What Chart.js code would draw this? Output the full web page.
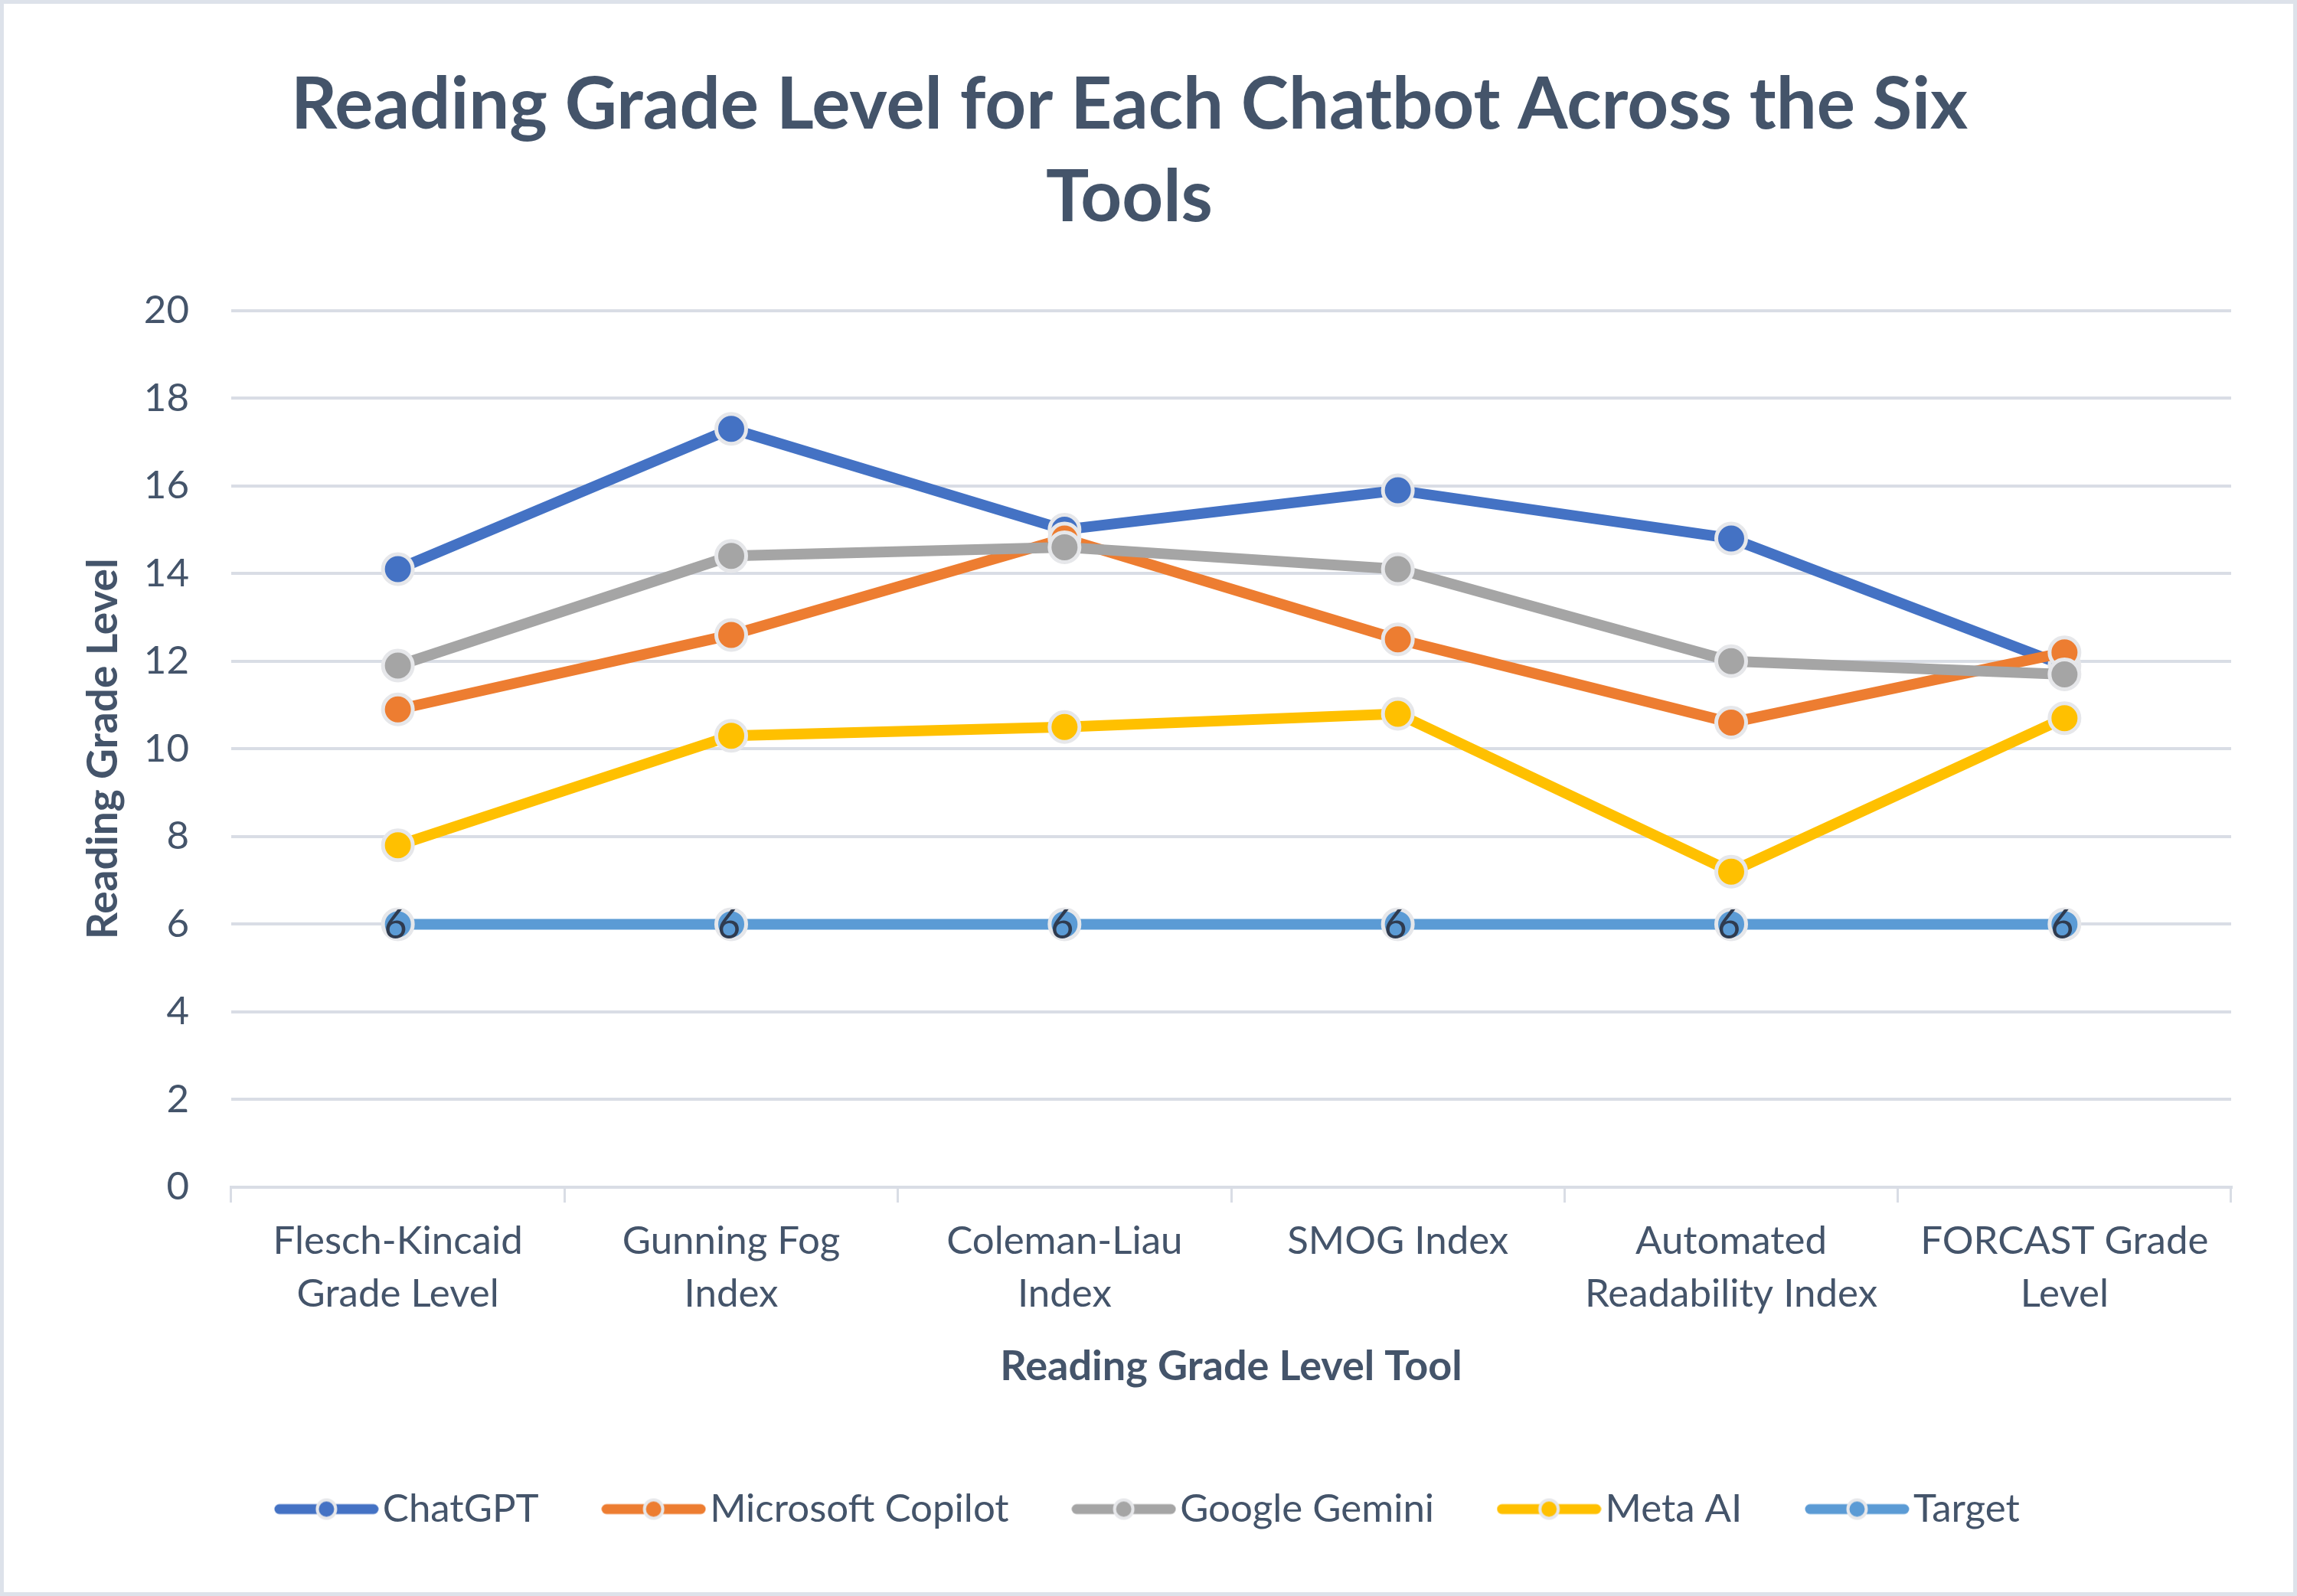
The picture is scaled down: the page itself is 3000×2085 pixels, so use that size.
<!DOCTYPE html>
<html>
<head>
<meta charset="utf-8">
<script src="https://cdn.jsdelivr.net/npm/chart.js@4/dist/chart.umd.min.js"></script>
<style>
  html, body { margin: 0; padding: 0; background: #ffffff; }
  #wrap { width: 3000px; height: 2085px; box-sizing: border-box; border: 5px solid #dde2ea; background: #ffffff; }
  canvas { display: block; }
</style>
</head>
<body>
<div id="wrap"><canvas id="c" width="2990" height="2075"></canvas></div>
<script>
const titleLines = ["Reading Grade Level for Each Chatbot Across the Six", "Tools"];
const categories = [["Flesch-Kincaid", "Grade Level"], ["Gunning Fog", "Index"], ["Coleman-Liau", "Index"], ["SMOG Index"], ["Automated", "Readability Index"], ["FORCAST Grade", "Level"]];
const seriesNames = ["ChatGPT", "Microsoft Copilot", "Google Gemini", "Meta AI", "Target"];
const chatgpt = [14.1, 17.3, 15.0, 15.9, 14.8, 11.9];
const copilot = [10.9, 12.6, 14.8, 12.5, 10.6, 12.2];
const gemini = [11.9, 14.4, 14.6, 14.1, 12.0, 11.7];
const metaAI = [7.8, 10.3, 10.5, 10.8, 7.2, 10.7];
const target = [6, 6, 6, 6, 6, 6];
const yTicks = [0, 2, 4, 6, 8, 10, 12, 14, 16, 18, 20];
const yAxisTitle = "Reading Grade Level";
const xAxisTitle = "Reading Grade Level Tool";

const seriesValues = [chatgpt, copilot, gemini, metaAI, target];
const colors = ["#4472c4", "#ed7d31", "#a5a5a5", "#ffc000", "#5b9bd5"];
const textColor = "#44546a";
const FONT = "Lato, 'Open Sans', sans-serif";

function legendSymbol(color) {
  const c = document.createElement('canvas');
  c.width = 137; c.height = 40;
  const g = c.getContext('2d');
  g.strokeStyle = color; g.lineWidth = 13; g.lineCap = 'round';
  g.beginPath(); g.moveTo(7, 20); g.lineTo(130, 20); g.stroke();
  g.beginPath(); g.arc(68.5, 20, 12, 0, Math.PI * 2);
  g.fillStyle = color; g.fill();
  g.lineWidth = 4; g.strokeStyle = '#e6e7ea'; g.stroke();
  return c;
}

const datasets = seriesNames.map((name, i) => ({
  label: name,
  data: seriesValues[i],
  borderColor: colors[i],
  backgroundColor: colors[i],
  borderWidth: 14,
  pointRadius: 19.5,
  pointHoverRadius: 19.5,
  pointBackgroundColor: colors[i],
  pointBorderColor: '#e6e7ea',
  pointBorderWidth: 5,
  tension: 0,
  order: seriesNames.length - 1 - i,
  showValues: name === "Target",
  legendImage: legendSymbol(colors[i])
}));

const valueLabels = {
  id: 'valueLabels',
  afterDatasetsDraw(chart) {
    const ctx = chart.ctx;
    chart.data.datasets.forEach((ds, i) => {
      if (!ds.showValues) return;
      const meta = chart.getDatasetMeta(i);
      ctx.save();
      ctx.font = "52px " + FONT;
      ctx.fillStyle = '#2f3b4f';
      ctx.textAlign = 'center';
      ctx.textBaseline = 'middle';
      meta.data.forEach((pt, j) => {
        ctx.fillText(String(ds.data[j]), pt.x - 3, pt.y + 2);
      });
      ctx.restore();
    });
  }
};

const titleShift = {
  id: 'titleShift',
  afterLayout(chart) {
    if (chart.titleBlock) { chart.titleBlock.left -= 66; }
  }
};

new Chart(document.getElementById('c'), {
  type: 'line',
  data: { labels: categories, datasets: datasets },
  plugins: [valueLabels, titleShift],
  options: {
    responsive: false,
    animation: false,
    events: [],
    layout: { padding: { left: 97, right: 81, top: 0, bottom: 73 } },
    plugins: {
      tooltip: { enabled: false },
      title: {
        display: true,
        text: titleLines,
        color: textColor,
        font: { family: FONT, size: 94, weight: 'bold', lineHeight: 1.28 },
        padding: { top: 73, bottom: 87 }
      },
      legend: {
        position: 'bottom',
        labels: {
          usePointStyle: true,
          pointStyleWidth: 96,
          color: textColor,
          font: { family: FONT, size: 51 },
          padding: 102,
          generateLabels(chart) {
            return chart.data.datasets.map((ds, i) => ({
              text: ds.label,
              fillStyle: ds.backgroundColor,
              strokeStyle: ds.borderColor,
              lineWidth: 0,
              pointStyle: ds.legendImage,
              fontColor: textColor,
              hidden: false,
              datasetIndex: i
            }));
          }
        }
      }
    },
    scales: {
      x: {
        offset: true,
        afterFit(scale) { scale.height = 293; },
        grid: { display: true, drawOnChartArea: false, drawTicks: true, tickLength: 20, offset: true, color: '#d9dde5', lineWidth: 3 },
        border: { display: true, color: '#d9dde5', width: 4 },
        ticks: { color: textColor, font: { family: FONT, size: 51, lineHeight: 1.35 }, padding: 16, maxRotation: 0, autoSkip: false },
        title: { display: true, text: xAxisTitle, color: textColor, font: { family: FONT, size: 54, weight: 'bold' }, padding: { top: 0, bottom: 26 } }
      },
      y: {
        min: 0, max: 20,
        afterFit(scale) { scale.width = 200; },
        afterBuildTicks(scale) { scale.ticks = yTicks.map(v => ({ value: v })); },
        grid: { color: '#d9dde5', lineWidth: 4, drawTicks: false },
        border: { display: false },
        ticks: { color: textColor, font: { family: FONT, size: 51 }, padding: 55 },
        title: { display: true, text: yAxisTitle, color: textColor, font: { family: FONT, size: 55, weight: 'bold' }, padding: { top: 0, bottom: 0 } }
      }
    }
  }
});
</script>
</body>
</html>
